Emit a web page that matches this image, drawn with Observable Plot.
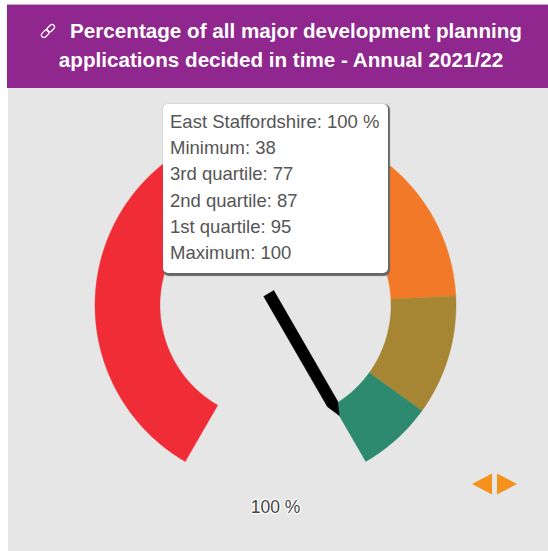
<!DOCTYPE html>
<html><head><meta charset="utf-8">
<script src="https://cdn.jsdelivr.net/npm/d3@7"></script>
<script src="https://cdn.jsdelivr.net/npm/@observablehq/plot@0.6"></script>
<style>
html,body{margin:0;padding:0;background:#fff;width:548px;height:551px;overflow:hidden;font-family:"Liberation Sans",Arial,sans-serif}
#wrap{position:absolute;left:7px;top:4px;width:541px;height:547px}
#head{position:absolute;left:0;top:0;width:541px;height:84px;background:#90278e;border-top:1px solid #c9a3c8;box-sizing:border-box;color:#fff;font-weight:bold;font-size:20.65px;line-height:29px;text-align:center;padding:11px 0 0 7px}
#head svg{vertical-align:-1px;margin-right:14px}
#panel{position:absolute;left:1px;top:84px;width:540px;height:463px;background:#e6e6e6}
#panel svg{display:block;background:transparent}
#tip{position:absolute;left:155px;top:16px;width:225px;height:169px;background:#fff;border-radius:5px;box-shadow:1px 1.5px 1px 1px #666;color:#555;font-size:18.5px;line-height:26.2px;padding:5px 0 0 7px;box-sizing:border-box;white-space:nowrap}
#nav{position:absolute;left:464px;top:385px}
</style></head>
<body>
<div id="wrap">
<div id="head"><svg width="16" height="16" viewBox="0 0 16 16" fill="none" stroke="#fff" stroke-width="1.3"><rect x="1" y="8.2" width="8.5" height="5" rx="2.5" transform="rotate(-45 5.2 10.7)"/><rect x="6.5" y="2.8" width="8.5" height="5" rx="2.5" transform="rotate(-45 10.7 5.3)"/></svg><span id="t1"></span><br><span id="t2"></span></div>
<div id="panel"><div id="chart"></div><div id="tip"></div>
<svg id="nav" width="46" height="22" viewBox="0 0 46 22"><polygon points="0,11 20,0.5 20,21.5" fill="#f5921e"/><polygon points="25,0.5 45,11 25,21.5" fill="#f5921e"/></svg>
</div>
</div>
<script>
const titleLines = ["Percentage of all major development planning", "applications decided in time - Annual 2021/22"];
const areaName = "East Staffordshire";
const unit = "%";
const value = 100;
const bandLabels = ["Minimum", "3rd quartile", "2nd quartile", "1st quartile", "Maximum"];
const bandStops = [38, 77, 87, 95, 100];
const bandColors = ["#f02d37", "#f27928", "#a68533", "#2e8a6e"];

document.getElementById("t1").textContent = titleLines[0];
document.getElementById("t2").textContent = titleLines[1];
const tip = document.getElementById("tip");
[`${areaName}: ${value} ${unit}`].concat(bandLabels.map((l, i) => `${l}: ${bandStops[i]}`))
  .forEach(s => { const d = document.createElement("div"); d.textContent = s; tip.appendChild(d); });

// gauge sweep: -150deg to +150deg, value -> angle (radians from 12 o'clock)
const W = 540, H = 463, cx = 267, cy = 216.7, R = 180.5, inner = 0.64;
const lo = bandStops[0], hi = bandStops[bandStops.length - 1];
const angle = d3.scaleLinear([lo, hi], [-150, 150]);
const rad = v => angle(v) * Math.PI / 180;
const polar = (a, r) => ({x: r * Math.sin(a), y: r * Math.cos(a)});

const bandPts = [];
bandColors.forEach((color, i) => {
  const a0 = rad(bandStops[i]), a1 = rad(bandStops[i + 1]);
  const n = Math.ceil(Math.abs(a1 - a0) * 60);
  const arc = d3.range(n + 1).map(k => a0 + (a1 - a0) * k / n);
  for (const a of arc) bandPts.push({...polar(a, 1), band: i, color});
  for (const a of arc.reverse()) bandPts.push({...polar(a, inner), band: i, color});
  bandPts.push({...polar(a0, 1), band: i, color});
});

const a = rad(value), px = 1 / R;
const side = (along, across) => ({
  x: along * Math.sin(a) + across * Math.cos(a),
  y: along * Math.cos(a) - across * Math.sin(a)
});
const needle = [
  side(-13.5 * px, -5.8 * px), side(-13.5 * px, 5.8 * px),
  side(114 * px, 5.8 * px), side(127.5 * px, 0),
  side(114 * px, -5.8 * px), side(-13.5 * px, -5.8 * px)
];

const plot = Plot.plot({
  width: W, height: H, margin: 0,
  style: {background: "transparent"},
  x: {axis: null, domain: [-cx / R, (W - cx) / R], range: [0, W]},
  y: {axis: null, domain: [(H - cy) * -1 / R, cy / R], range: [H, 0]},
  marks: [
    Plot.line(bandPts, {x: "x", y: "y", z: "band", fill: "color", stroke: "color", strokeWidth: 0.4, curve: "linear"}),
    Plot.line(needle, {x: "x", y: "y", fill: "#000", stroke: "#000", strokeWidth: 0.5, curve: "linear"}),
    Plot.text([`${value} ${unit}`], {
      x: () => 0.0, y: () => -(507 - 88 - cy) / R, text: d => d,
      fontSize: 17.5, fill: "#444", stroke: "#fff", strokeWidth: 2.5,
      fontFamily: "Liberation Sans, Arial, sans-serif"
    })
  ]
});
document.getElementById("chart").appendChild(plot);
</script>
</body></html>
